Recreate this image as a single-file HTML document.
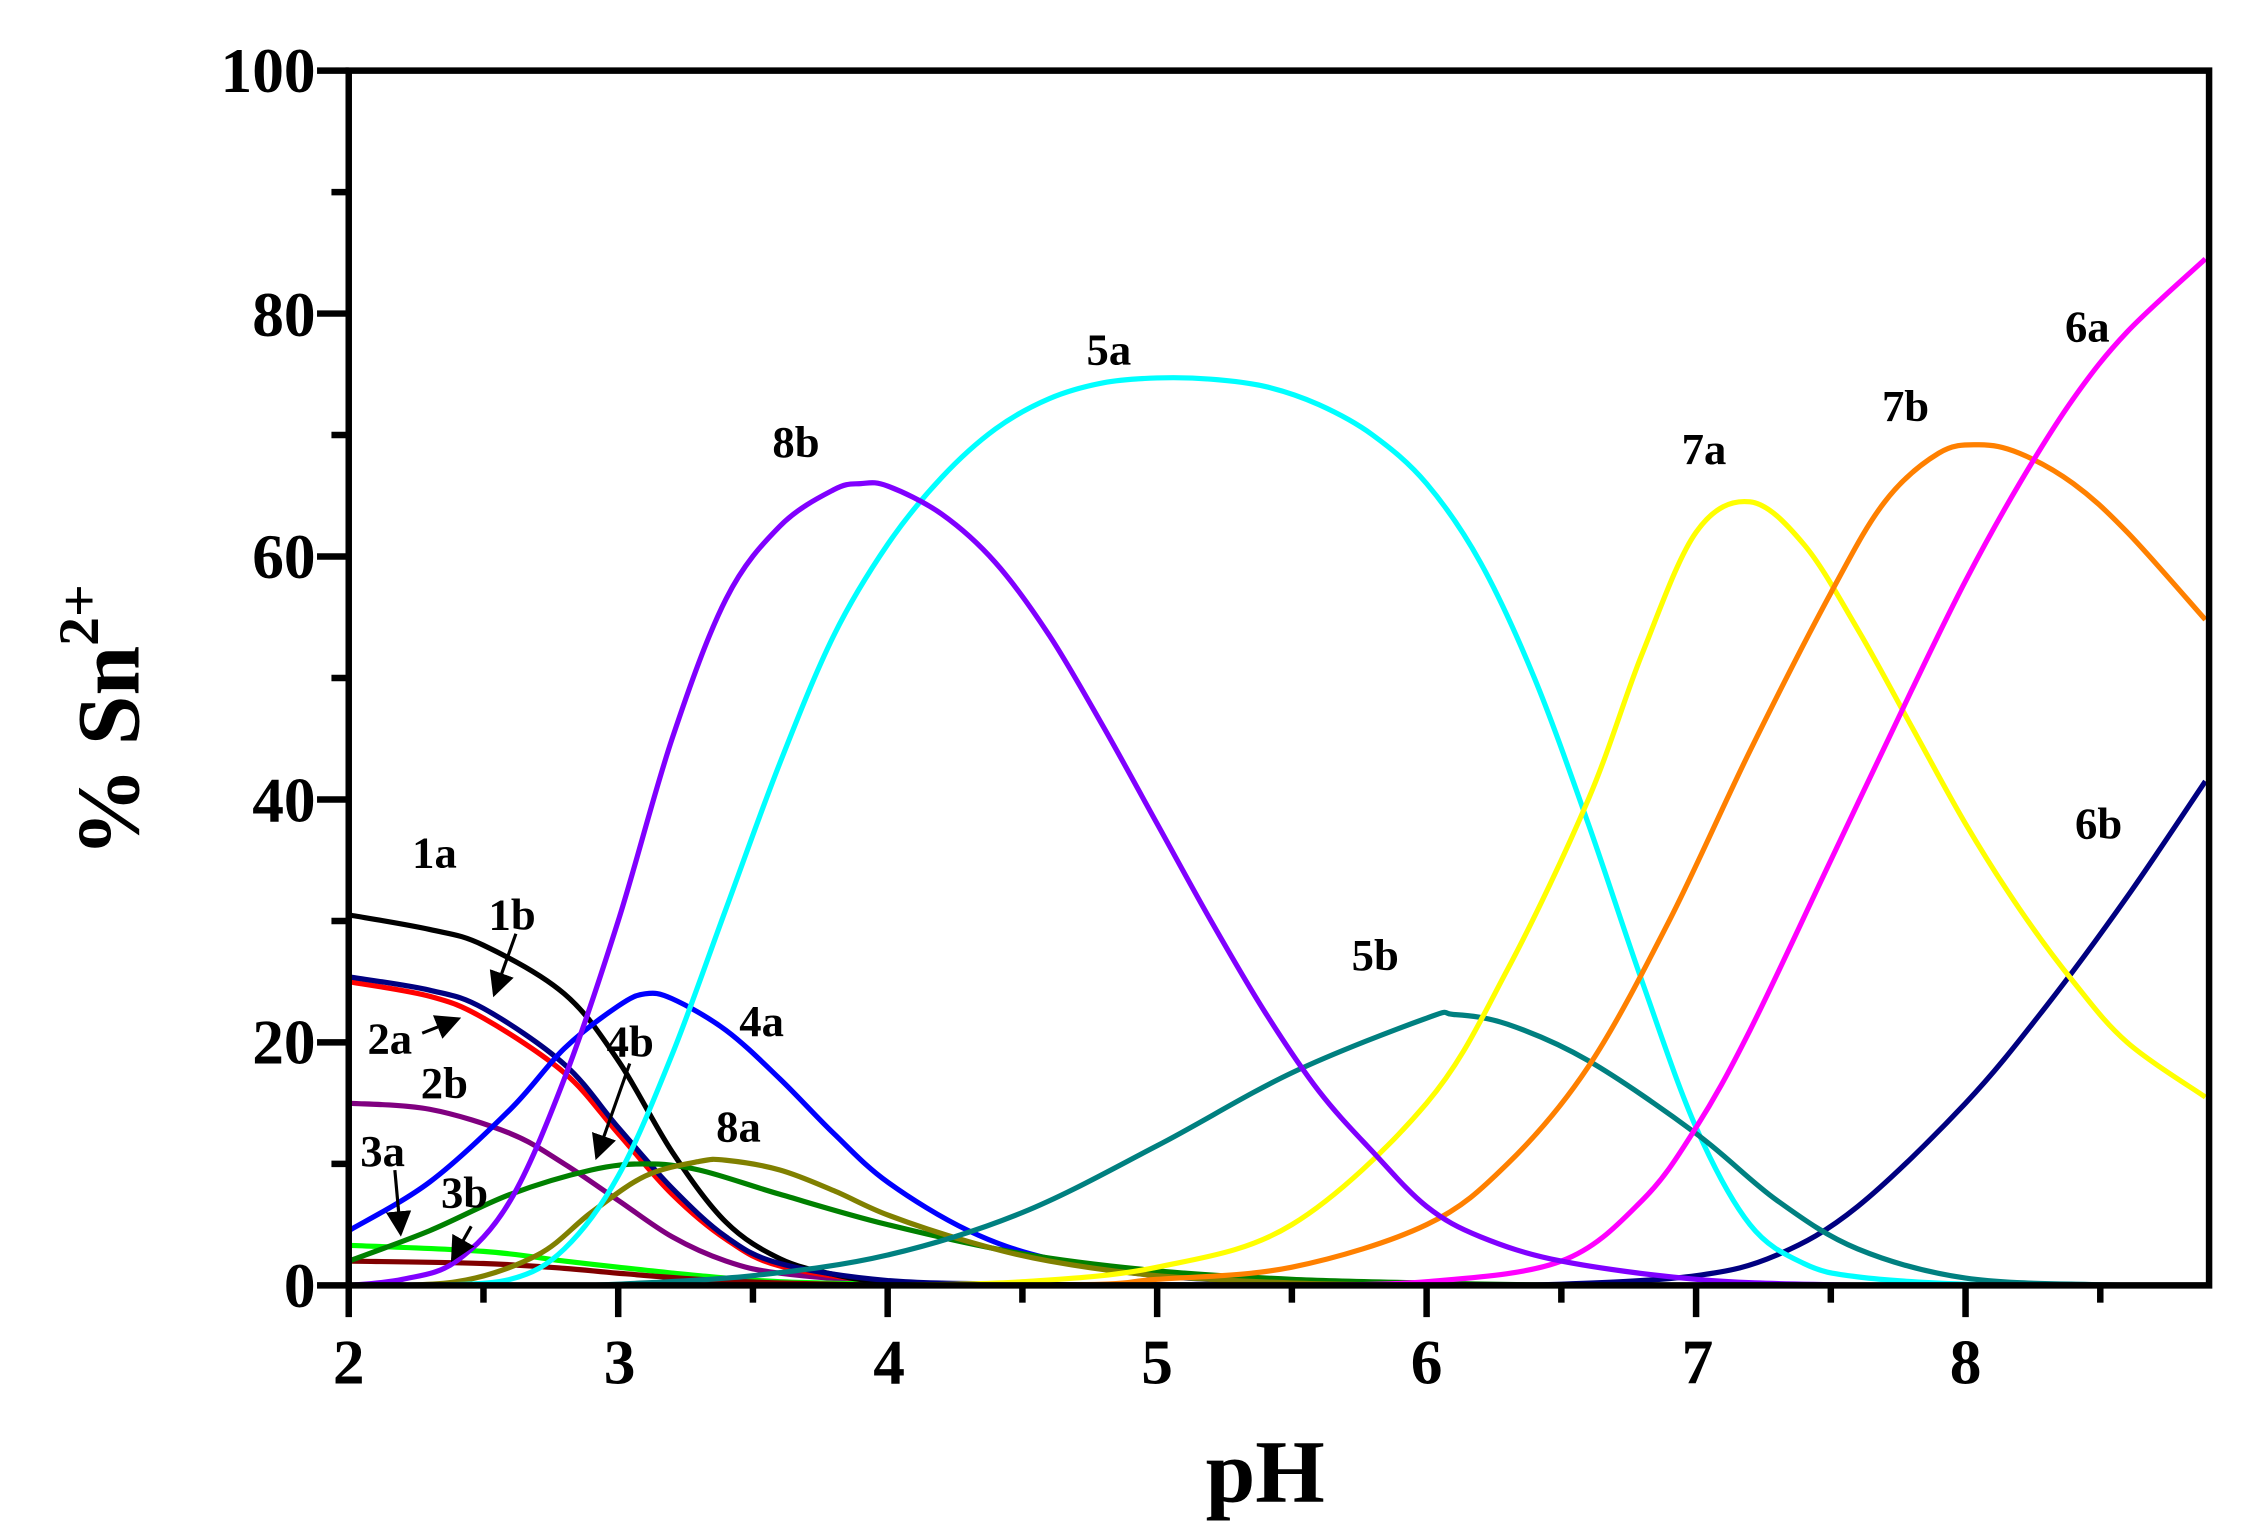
<!DOCTYPE html>
<html><head><meta charset="utf-8"><style>
html,body{margin:0;padding:0;background:#fff;}
svg{display:block;}
text{font-family:"Liberation Serif",serif;font-weight:bold;fill:#000;}
</style></head><body>
<svg id="s" width="2248" height="1539" viewBox="0 0 1560 1068" xmlns="http://www.w3.org/2000/svg">
<defs><marker id="ah" markerWidth="8" markerHeight="8" refX="7" refY="4" orient="auto" markerUnits="strokeWidth"><path d="M0,0 L8,4 L0,8 Z" fill="#000"/></marker></defs>
<g id="curves" fill="none" stroke-width="3.6" stroke-linejoin="round"></g>
<g stroke="#000" stroke-width="4.5" fill="none">
<path d="M242,49 L1533,49 L1533,892 L242,892 Z"/>
</g>
<g id="ticks" stroke="#000" stroke-width="4.5"></g>
<g font-size="44" text-anchor="end">
<text x="219" y="907">0</text><text x="219" y="738">20</text><text x="219" y="570">40</text>
<text x="219" y="401">60</text><text x="219" y="233">80</text><text x="219" y="64">100</text>
</g>
<g font-size="44" text-anchor="middle">
<text x="242" y="960">2</text><text x="430" y="960">3</text><text x="617" y="960">4</text>
<text x="803" y="960">5</text><text x="990" y="960">6</text><text x="1178" y="960">7</text><text x="1364" y="960">8</text>
</g>
<text x="878" y="1042" font-size="62" text-anchor="middle">pH</text>
<text transform="translate(96,500) rotate(-90)" font-size="62" text-anchor="middle">% Sn<tspan font-size="40" dy="-28">2+</tspan></text>
<g font-size="31">
<text x="286" y="602">1a</text><text x="339" y="645">1b</text><text x="255" y="731">2a</text>
<text x="292" y="762">2b</text><text x="250" y="809">3a</text><text x="306" y="838">3b</text>
<text x="421" y="733">4b</text><text x="513" y="719">4a</text><text x="497" y="792">8a</text>
<text x="536" y="317">8b</text><text x="754" y="253">5a</text><text x="938" y="673">5b</text>
<text x="1167" y="322">7a</text><text x="1306" y="292">7b</text><text x="1433" y="237">6a</text><text x="1440" y="582">6b</text>
</g>
<g stroke="#000" stroke-width="2.2" marker-end="url(#ah)">
<line x1="358" y1="648" x2="343" y2="690"/>
<line x1="293" y1="717" x2="318" y2="707"/>
<line x1="437" y1="738" x2="414" y2="803"/>
<line x1="274" y1="812" x2="278" y2="856"/>
<line x1="327" y1="851" x2="314" y2="874"/>
</g>
</svg>
<script>
const X=p=>242+(p-2)*187.0, Y=v=>892-v*8.43;
const T=document.getElementById('ticks');let t='';
for(let p=2;p<=8.9;p+=0.5){const maj=Math.abs(p-Math.round(p))<0.01;t+=`<line x1="${X(p)}" y1="892" x2="${X(p)}" y2="${maj?914:904}"/>`;}
for(let v=0;v<=100;v+=10){const maj=v%20==0;t+=`<line x1="242" y1="${Y(v)}" x2="${maj?220:230}" y2="${Y(v)}"/>`;}
T.innerHTML=t;
const S={
'#800080':[[2,15],[2.3,14.5],[2.6,12.5],[2.8,10],[3,7],[3.2,4],[3.4,2],[3.6,1],[4,0.3],[4.5,0.05],[5,0]],
'#00ff00':[[2,3.3],[2.5,2.8],[2.8,2],[3,1.5],[3.3,0.8],[3.6,0.3],[4,0.1],[4.5,0]],
'#800000':[[2,2],[2.5,1.8],[2.8,1.4],[3,1],[3.3,0.5],[3.6,0.2],[4,0]],
'#ff0000':[[2,25],[2.3,23.8],[2.5,22],[2.8,17.5],[3,12.5],[3.2,7.5],[3.4,3.8],[3.6,1.6],[4,0.3],[4.5,0]],
'#000000':[[2,30.5],[2.3,29.3],[2.5,28],[2.8,24],[3,18.5],[3.2,11],[3.4,5.2],[3.6,2.2],[3.8,0.9],[4,0.3],[4.5,0]],
'#000080':[[2,25.4],[2.3,24.3],[2.5,22.8],[2.8,18.2],[3,13],[3.2,8],[3.4,4],[3.6,1.8],[4,0.4],[4.5,0.1],[5,0.05],[6,0],[6.5,0.1],[7,0.8],[7.3,2.5],[7.6,6.5],[8,15],[8.3,23],[8.6,32],[8.89,41.5]],
'#0000ff':[[2,4.5],[2.3,8.5],[2.6,14.5],[2.8,19.5],[3,23],[3.1,24],[3.2,23.6],[3.4,21],[3.6,17],[3.8,12.5],[4,8.5],[4.3,4.5],[4.6,2.2],[5,0.8],[5.5,0.2],[6,0]],
'#008000':[[2,2],[2.3,4.5],[2.6,7.5],[2.9,9.5],[3.1,10],[3.3,9.5],[3.6,7.5],[4,5],[4.5,2.6],[5,1.2],[5.5,0.5],[6,0.2],[6.5,0]],
'#808000':[[2,0],[2.4,0.3],[2.7,2.5],[2.9,6],[3.1,9],[3.3,10.2],[3.4,10.3],[3.6,9.5],[3.8,7.8],[4,5.8],[4.3,3.6],[4.6,2],[5,0.8],[5.5,0.2],[6,0]],
'#00ffff':[[2.3,0],[2.6,0.5],[2.8,3],[3,9],[3.2,19],[3.4,31],[3.6,43],[3.8,53.5],[4,61],[4.2,66.5],[4.4,70.5],[4.6,73],[4.8,74.3],[5,74.7],[5.2,74.6],[5.4,74],[5.6,72.5],[5.8,70],[6,66],[6.2,59.5],[6.4,50],[6.6,38],[6.8,25],[7,13],[7.2,5],[7.4,1.8],[7.6,0.7],[8,0.1],[8.5,0]],
'#008080':[[2.8,0],[3,0.1],[3.5,0.8],[4,2.5],[4.5,6],[5,11.5],[5.5,17.5],[6,22],[6.1,22.3],[6.3,21.5],[6.6,18.5],[7,12.5],[7.3,7],[7.6,3],[8,0.6],[8.5,0.05],[8.89,0]],
'#ffff00':[[4,0],[4.5,0.3],[5,1.5],[5.5,5],[6,15],[6.3,26],[6.6,40],[6.8,52],[7,62],[7.2,64.5],[7.4,61],[7.6,54],[7.8,46],[8,38],[8.2,31],[8.4,25],[8.6,20],[8.89,15.5]],
'#ff8000':[[2,0],[4.5,0],[5,0.5],[5.5,1.5],[6,5],[6.3,10],[6.6,18],[6.9,30],[7.2,44],[7.5,57],[7.7,64.5],[7.9,68.5],[8.05,69.2],[8.2,68.5],[8.4,66],[8.6,62],[8.89,54.8]],
'#ff00ff':[[5.5,0],[6,0.3],[6.5,2],[6.8,7],[7,13],[7.2,21],[7.5,35],[7.8,49],[8,58],[8.2,66],[8.4,73],[8.6,78.5],[8.89,84.5]],
'#8000ff':[[2,0],[2.2,0.5],[2.4,2],[2.6,7],[2.8,17],[3,30],[3.2,45],[3.4,56.5],[3.6,62.5],[3.8,65.5],[3.9,66],[4,65.8],[4.2,63.5],[4.4,59.5],[4.6,53.5],[4.8,46],[5,38],[5.2,30],[5.4,22.5],[5.6,16],[5.8,11],[6,6.5],[6.2,4],[6.5,2],[7,0.5],[7.5,0.05],[8,0],[8.89,0]]
};
let h='';
for(const c in S){const p=S[c].map(q=>[Math.min(X(q[0]),1533),Y(q[1])]);let d=`M${p[0][0]},${p[0][1]}`;
for(let i=0;i<p.length-1;i++){const a=p[i-1]||p[i],b=p[i],e=p[i+1],f=p[i+2]||e;
d+=` C${b[0]+(e[0]-a[0])/6},${b[1]+(e[1]-a[1])/6} ${e[0]-(f[0]-b[0])/6},${e[1]-(f[1]-b[1])/6} ${e[0]},${e[1]}`;}
h+=`<path d="${d}" stroke="${c}"/>`;}
document.getElementById('curves').innerHTML=h;
</script>
</body></html>
